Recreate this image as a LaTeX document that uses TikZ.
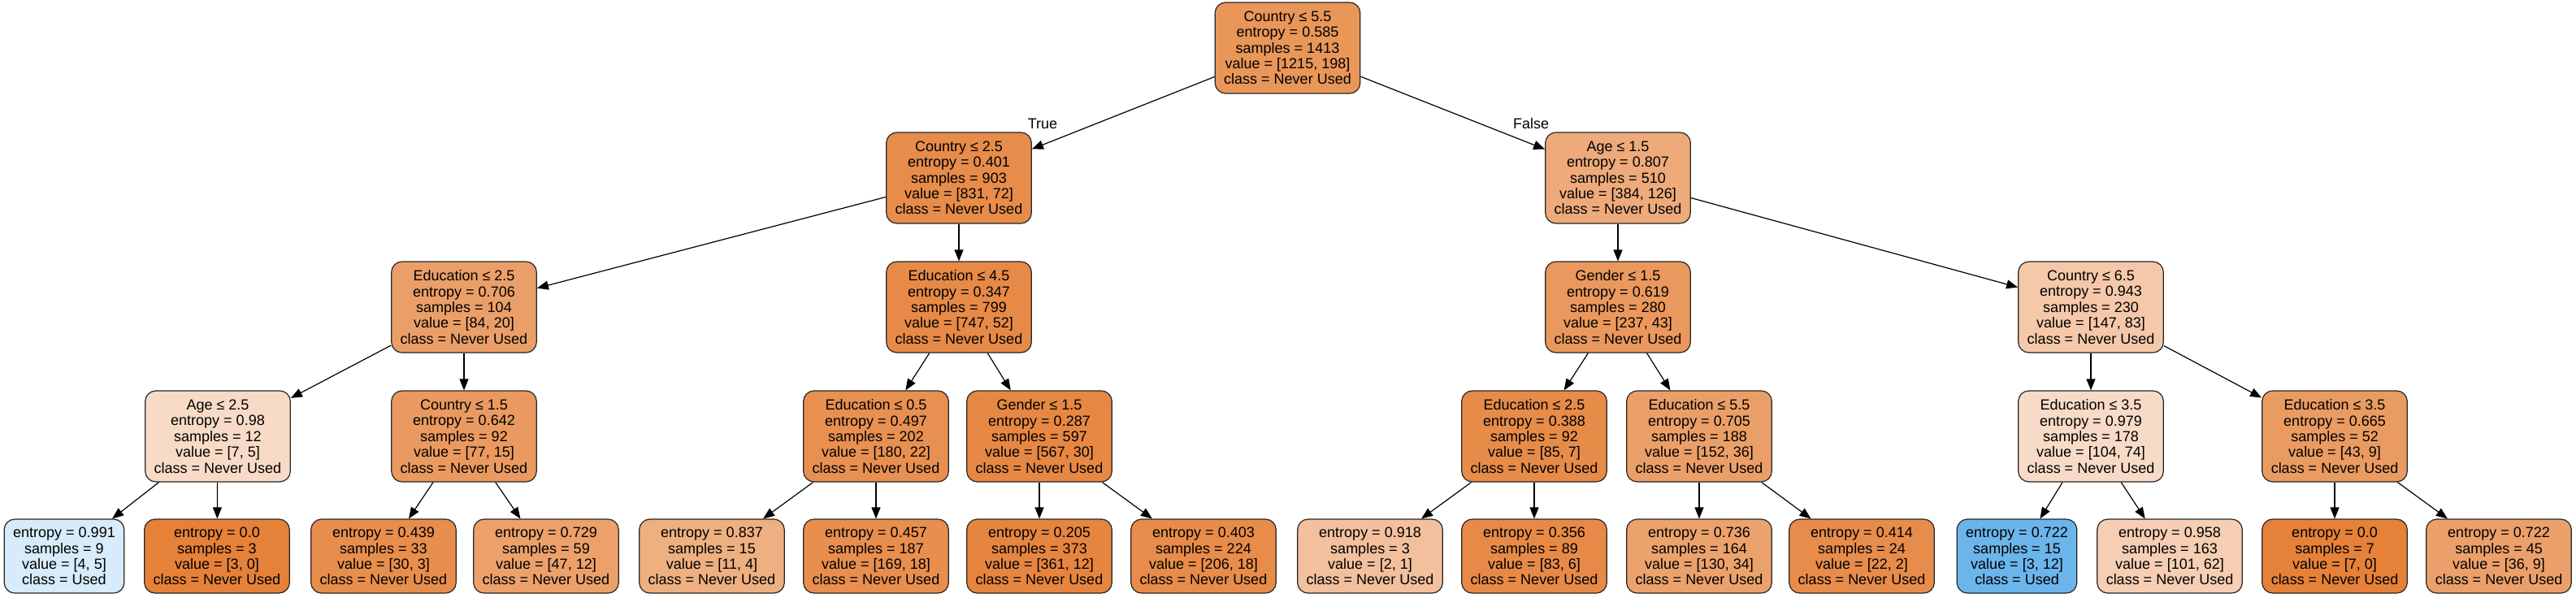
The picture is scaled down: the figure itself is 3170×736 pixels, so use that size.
\documentclass[tikz,border=0pt]{standalone}
\usepackage{fontspec}
\setmainfont{Liberation Sans}
\usetikzlibrary{arrows.meta}
\definecolor{neverused}{RGB}{229,129,57}
\definecolor{used}{RGB}{57,157,229}

\begin{document}
\begin{tikzpicture}[x=1pt, y=-1pt,
  split/.style={draw=black!85, line width=1.2pt, rectangle, rounded corners=13pt, align=center,
    inner xsep=11pt, inner ysep=0pt, minimum height=112pt, font=\fontsize{18}{19.4}\selectfont},
  leaf/.style={split, minimum height=91pt},
  branch/.style={line width=1.2pt, -{Triangle[length=14pt, width=11pt]}}]
  \useasboundingbox (0,0) rectangle (3170,736);
  % Nodes
  \node [split, fill=neverused!83.7] (node0) at (1584.5,59) {Country ≤ 5.5\\entropy = 0.585\\samples = 1413\\value = [1215, 198]\\class = Never Used};
  \node [split, fill=neverused!91.3] (node1) at (1180,219) {Country ≤ 2.5\\entropy = 0.401\\samples = 903\\value = [831, 72]\\class = Never Used};
  \node [split, fill=neverused!67.2] (node16) at (1991,219) {Age ≤ 1.5\\entropy = 0.807\\samples = 510\\value = [384, 126]\\class = Never Used};
  \node [split, fill=neverused!76.2] (node2) at (571,378) {Education ≤ 2.5\\entropy = 0.706\\samples = 104\\value = [84, 20]\\class = Never Used};
  \node [split, fill=neverused!93.0] (node9) at (1180,378) {Education ≤ 4.5\\entropy = 0.347\\samples = 799\\value = [747, 52]\\class = Never Used};
  \node [split, fill=neverused!81.9] (node17) at (1991,378) {Gender ≤ 1.5\\entropy = 0.619\\samples = 280\\value = [237, 43]\\class = Never Used};
  \node [split, fill=neverused!43.5] (node24) at (2573,378) {Country ≤ 6.5\\entropy = 0.943\\samples = 230\\value = [147, 83]\\class = Never Used};
  \node [split, fill=neverused!28.6] (node3) at (268,537) {Age ≤ 2.5\\entropy = 0.98\\samples = 12\\value = [7, 5]\\class = Never Used};
  \node [split, fill=neverused!80.5] (node6) at (571,537) {Country ≤ 1.5\\entropy = 0.642\\samples = 92\\value = [77, 15]\\class = Never Used};
  \node [split, fill=neverused!87.8] (node10) at (1078,537) {Education ≤ 0.5\\entropy = 0.497\\samples = 202\\value = [180, 22]\\class = Never Used};
  \node [split, fill=neverused!94.7] (node13) at (1279,537) {Gender ≤ 1.5\\entropy = 0.287\\samples = 597\\value = [567, 30]\\class = Never Used};
  \node [split, fill=neverused!91.8] (node18) at (1888,537) {Education ≤ 2.5\\entropy = 0.388\\samples = 92\\value = [85, 7]\\class = Never Used};
  \node [split, fill=neverused!76.3] (node21) at (2091,537) {Education ≤ 5.5\\entropy = 0.705\\samples = 188\\value = [152, 36]\\class = Never Used};
  \node [split, fill=neverused!28.8] (node25) at (2573,537) {Education ≤ 3.5\\entropy = 0.979\\samples = 178\\value = [104, 74]\\class = Never Used};
  \node [split, fill=neverused!79.1] (node28) at (2873,537) {Education ≤ 3.5\\entropy = 0.665\\samples = 52\\value = [43, 9]\\class = Never Used};
  % Leaves
  \node [leaf, fill=used!20] (node4) at (79,684.5) {entropy = 0.991\\samples = 9\\value = [4, 5]\\class = Used};
  \node [leaf, fill=neverused] (node5) at (267,684.5) {entropy = 0.0\\samples = 3\\value = [3, 0]\\class = Never Used};
  \node [leaf, fill=neverused!90] (node7) at (472,684.5) {entropy = 0.439\\samples = 33\\value = [30, 3]\\class = Never Used};
  \node [leaf, fill=neverused!74.5] (node8) at (672,684.5) {entropy = 0.729\\samples = 59\\value = [47, 12]\\class = Never Used};
  \node [leaf, fill=neverused!63.6] (node11) at (876,684.5) {entropy = 0.837\\samples = 15\\value = [11, 4]\\class = Never Used};
  \node [leaf, fill=neverused!89.3] (node12) at (1078,684.5) {entropy = 0.457\\samples = 187\\value = [169, 18]\\class = Never Used};
  \node [leaf, fill=neverused!96.7] (node14) at (1279,684.5) {entropy = 0.205\\samples = 373\\value = [361, 12]\\class = Never Used};
  \node [leaf, fill=neverused!91.3] (node15) at (1481,684.5) {entropy = 0.403\\samples = 224\\value = [206, 18]\\class = Never Used};
  \node [leaf, fill=neverused!50] (node19) at (1686,684.5) {entropy = 0.918\\samples = 3\\value = [2, 1]\\class = Never Used};
  \node [leaf, fill=neverused!92.8] (node20) at (1888,684.5) {entropy = 0.356\\samples = 89\\value = [83, 6]\\class = Never Used};
  \node [leaf, fill=neverused!73.8] (node22) at (2091,684.5) {entropy = 0.736\\samples = 164\\value = [130, 34]\\class = Never Used};
  \node [leaf, fill=neverused!90.9] (node23) at (2291,684.5) {entropy = 0.414\\samples = 24\\value = [22, 2]\\class = Never Used};
  \node [leaf, fill=used!75] (node26) at (2482,684.5) {entropy = 0.722\\samples = 15\\value = [3, 12]\\class = Used};
  \node [leaf, fill=neverused!38.6] (node27) at (2670,684.5) {entropy = 0.958\\samples = 163\\value = [101, 62]\\class = Never Used};
  \node [leaf, fill=neverused] (node29) at (2873,684.5) {entropy = 0.0\\samples = 7\\value = [7, 0]\\class = Never Used};
  \node [leaf, fill=neverused!75] (node30) at (3075,684.5) {entropy = 0.722\\samples = 45\\value = [36, 9]\\class = Never Used};
  % Labels
  \node [font=\fontsize{18}{19.4}\selectfont] (truelbl) at (1283,152) {True};
  \node [font=\fontsize{18}{19.4}\selectfont] (falselbl) at (1884,152) {False};
  % Arrows
  \draw [branch] (node0) -- (node1);
  \draw [branch] (node0) -- (node16);
  \draw [branch] (node1) -- (node2);
  \draw [branch] (node1) -- (node9);
  \draw [branch] (node2) -- (node3);
  \draw [branch] (node2) -- (node6);
  \draw [branch] (node3) -- (node4);
  \draw [branch] (node3) -- (node5);
  \draw [branch] (node6) -- (node7);
  \draw [branch] (node6) -- (node8);
  \draw [branch] (node9) -- (node10);
  \draw [branch] (node9) -- (node13);
  \draw [branch] (node10) -- (node11);
  \draw [branch] (node10) -- (node12);
  \draw [branch] (node13) -- (node14);
  \draw [branch] (node13) -- (node15);
  \draw [branch] (node16) -- (node17);
  \draw [branch] (node16) -- (node24);
  \draw [branch] (node17) -- (node18);
  \draw [branch] (node17) -- (node21);
  \draw [branch] (node18) -- (node19);
  \draw [branch] (node18) -- (node20);
  \draw [branch] (node21) -- (node22);
  \draw [branch] (node21) -- (node23);
  \draw [branch] (node24) -- (node25);
  \draw [branch] (node24) -- (node28);
  \draw [branch] (node25) -- (node26);
  \draw [branch] (node25) -- (node27);
  \draw [branch] (node28) -- (node29);
  \draw [branch] (node28) -- (node30);
\end{tikzpicture}
\end{document}
